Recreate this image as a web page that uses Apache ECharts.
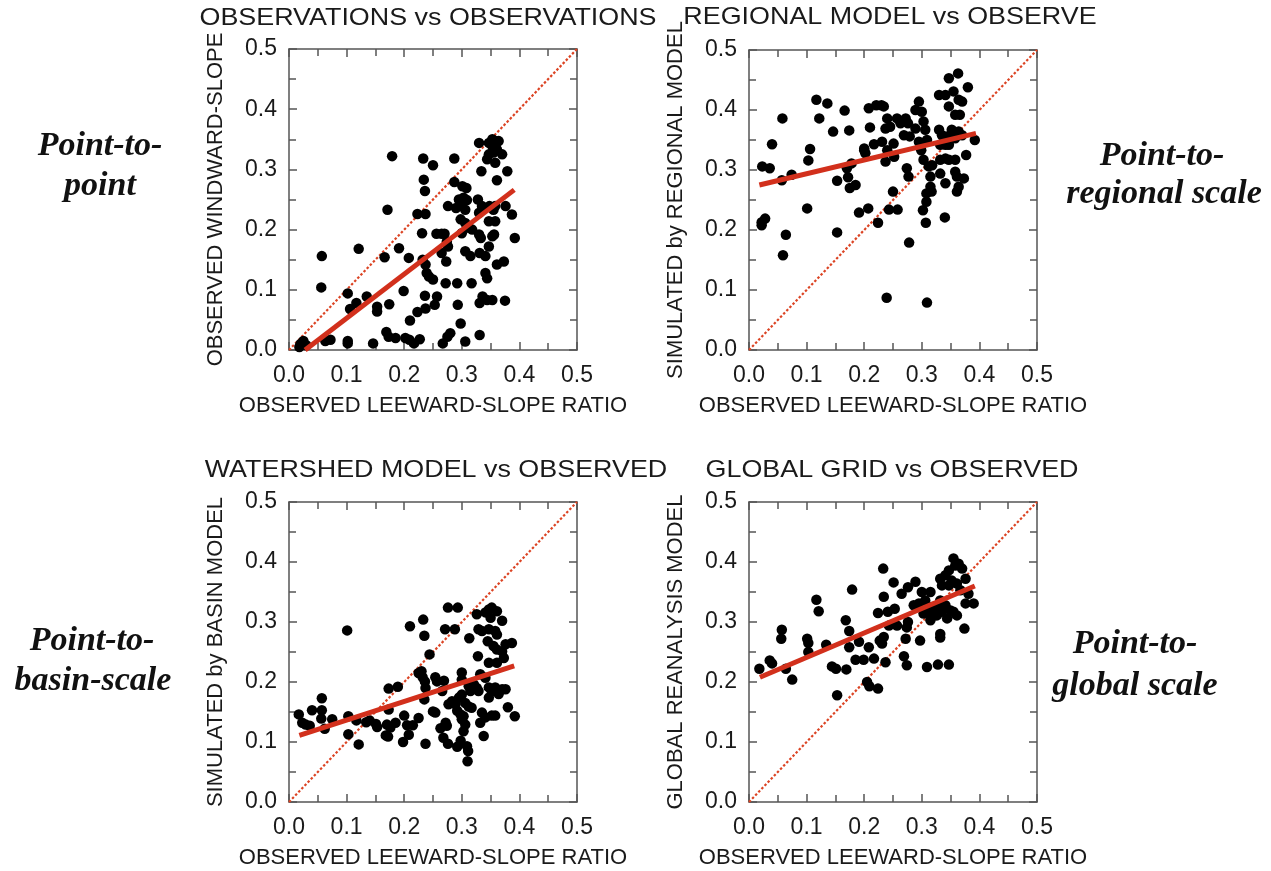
<!DOCTYPE html>
<html>
<head>
<meta charset="utf-8">
<script src="https://cdn.jsdelivr.net/npm/echarts@6/dist/echarts.min.js"></script>
<style>
html,body{margin:0;padding:0;background:#fff;}
#chart{width:1271px;height:871px;}
</style>
</head>
<body>
<div id="chart"></div>
<script>
// ---- data ----
const axisMin = 0, axisMax = 0.5, axisStep = 0.1;

const panelTitles = ['OBSERVATIONS vs OBSERVATIONS', 'REGIONAL MODEL vs OBSERVE', 'WATERSHED MODEL vs OBSERVED', 'GLOBAL GRID vs OBSERVED'];
const xNames = ['OBSERVED LEEWARD-SLOPE RATIO', 'OBSERVED LEEWARD-SLOPE RATIO', 'OBSERVED LEEWARD-SLOPE RATIO', 'OBSERVED LEEWARD-SLOPE RATIO'];
const yNames = ['OBSERVED WINDWARD-SLOPE', 'SIMULATED by REGIONAL MODEL', 'SIMULATED by BASIN MODEL', 'GLOBAL REANALYSIS MODEL'];
const sideLabels = [['Point-to-', 'point'], ['Point-to-', 'regional scale'], ['Point-to-', 'basin-scale'], ['Point-to-', 'global scale']];

const diagX = [0, 0.5];
const diagY = [0, 0.5];

const fit1X = [0.028, 0.391], fit1Y = [0.0, 0.266];
const fit2X = [0.018, 0.394], fit2Y = [0.275, 0.361];
const fit3X = [0.018, 0.391], fit3Y = [0.111, 0.227];
const fit4X = [0.019, 0.392], fit4Y = [0.208, 0.360];

const obsVsObs = [
[0.02,0.01],[0.025,0.015],[0.018,0.005],[0.03,0.008],
[0.057,0.156],[0.056,0.104],[0.072,0.017],[0.063,0.015],
[0.102,0.094],[0.106,0.068],[0.117,0.078],[0.102,0.015],[0.102,0.011],
[0.121,0.168],[0.135,0.089],[0.146,0.011],[0.153,0.072],[0.153,0.064],
[0.166,0.154],[0.171,0.233],[0.179,0.322],[0.174,0.076],
[0.169,0.03],[0.173,0.022],[0.185,0.02],
[0.191,0.169],[0.199,0.098],[0.208,0.153],[0.21,0.049],
[0.202,0.02],[0.209,0.017],[0.217,0.011],[0.227,0.018],
[0.223,0.063],[0.223,0.226],[0.233,0.318],[0.234,0.283],[0.236,0.264],[0.237,0.226],[0.231,0.194],
[0.232,0.15],[0.237,0.142],[0.239,0.128],[0.243,0.122],[0.25,0.117],
[0.236,0.09],[0.237,0.069],[0.253,0.075],[0.257,0.089],[0.25,0.307],
[0.256,0.193],[0.265,0.193],[0.27,0.193],[0.274,0.18],[0.276,0.172],[0.265,0.161],[0.273,0.147],[0.272,0.111],
[0.267,0.011],[0.275,0.022],[0.28,0.028],
[0.287,0.318],[0.287,0.279],[0.276,0.239],[0.292,0.111],[0.293,0.075],[0.298,0.044],[0.306,0.014],
[0.29,0.236],[0.3,0.239],[0.306,0.233],[0.301,0.272],[0.308,0.269],
[0.295,0.25],[0.303,0.253],[0.309,0.249],[0.298,0.217],[0.306,0.211],
[0.3,0.194],[0.312,0.203],[0.318,0.2],[0.306,0.164],[0.315,0.156],[0.317,0.111],
[0.33,0.344],[0.334,0.297],[0.328,0.25],[0.335,0.239],[0.33,0.228],[0.33,0.192],[0.333,0.186],[0.331,0.161],[0.341,0.156],[0.341,0.128],[0.344,0.119],[0.331,0.078],[0.336,0.089],[0.331,0.025],
[0.347,0.344],[0.353,0.35],[0.358,0.347],[0.364,0.347],[0.353,0.339],[0.361,0.333],[0.355,0.328],[0.347,0.325],[0.344,0.317],[0.37,0.325],[0.358,0.311],[0.379,0.297],[0.361,0.282],
[0.348,0.239],[0.355,0.233],[0.358,0.239],[0.376,0.239],[0.387,0.225],
[0.347,0.214],[0.358,0.214],[0.347,0.172],[0.353,0.189],[0.356,0.192],
[0.361,0.142],[0.373,0.147],[0.375,0.082],[0.392,0.186],[0.344,0.083],[0.353,0.083]
];

const regionalVsObs = [
[0.023,0.306],[0.036,0.303],[0.04,0.343],[0.058,0.386],[0.057,0.283],[0.074,0.292],
[0.022,0.213],[0.028,0.219],[0.022,0.208],
[0.064,0.192],[0.059,0.158],[0.101,0.236],[0.103,0.316],[0.106,0.335],
[0.117,0.417],[0.122,0.386],[0.136,0.411],[0.146,0.364],[0.153,0.196],[0.153,0.282],
[0.166,0.399],[0.174,0.366],[0.17,0.303],[0.178,0.311],[0.172,0.288],[0.175,0.27],[0.185,0.275],
[0.191,0.229],[0.207,0.236],[0.208,0.403],[0.21,0.371],
[0.2,0.336],[0.202,0.328],[0.217,0.343],[0.2,0.333],
[0.221,0.408],[0.23,0.408],[0.234,0.406],
[0.231,0.347],[0.237,0.369],[0.24,0.386],[0.245,0.372],
[0.237,0.314],[0.24,0.333],[0.251,0.344],[0.252,0.322],[0.25,0.264],[0.243,0.234],[0.258,0.234],[0.224,0.212],
[0.257,0.386],[0.263,0.378],[0.272,0.386],[0.276,0.378],[0.269,0.358],[0.279,0.356],[0.289,0.369],
[0.274,0.303],[0.277,0.289],
[0.289,0.4],[0.295,0.414],[0.3,0.397],
[0.278,0.179],[0.302,0.233],[0.307,0.212],[0.308,0.247],[0.308,0.261],[0.317,0.264],[0.315,0.289],[0.315,0.272],
[0.303,0.381],[0.306,0.367],[0.309,0.35],[0.295,0.347],[0.299,0.333],[0.303,0.317],[0.312,0.306],[0.318,0.308],
[0.33,0.425],[0.341,0.425],[0.347,0.453],[0.363,0.461],[0.355,0.431],[0.364,0.417],[0.37,0.414],[0.38,0.438],
[0.347,0.406],[0.358,0.392],[0.366,0.392],
[0.33,0.367],[0.335,0.358],[0.344,0.356],[0.352,0.367],[0.358,0.353],[0.364,0.364],[0.37,0.358],[0.332,0.342],[0.341,0.342],[0.347,0.342],
[0.392,0.35],[0.332,0.317],[0.341,0.319],[0.347,0.317],[0.358,0.317],
[0.332,0.294],[0.341,0.278],[0.358,0.297],[0.361,0.289],[0.373,0.286],[0.364,0.272],[0.361,0.264],
[0.34,0.221],[0.377,0.325],[0.239,0.087],[0.309,0.079]
];

const basinVsObs = [
[0.017,0.146],[0.023,0.132],[0.029,0.129],[0.036,0.127],[0.04,0.153],[0.057,0.173],[0.057,0.153],[0.056,0.139],[0.062,0.122],[0.075,0.138],
[0.101,0.286],[0.103,0.143],[0.103,0.113],[0.117,0.136],[0.121,0.096],[0.134,0.133],[0.14,0.136],[0.151,0.13],[0.153,0.125],
[0.173,0.189],[0.173,0.154],[0.168,0.111],[0.172,0.109],[0.17,0.129],[0.185,0.132],[0.176,0.124],
[0.189,0.192],[0.2,0.144],[0.198,0.1],[0.205,0.128],[0.208,0.112],[0.215,0.128],[0.21,0.293],[0.225,0.14],
[0.225,0.215],[0.23,0.218],[0.232,0.208],[0.233,0.304],[0.235,0.277],[0.244,0.246],[0.235,0.171],[0.237,0.19],[0.236,0.201],[0.237,0.097],
[0.254,0.208],[0.257,0.201],[0.269,0.202],[0.25,0.151],[0.254,0.149],[0.263,0.123],[0.272,0.132],[0.274,0.127],[0.268,0.107],[0.276,0.097],
[0.266,0.185],[0.277,0.163],[0.283,0.168],
[0.276,0.324],[0.293,0.324],[0.271,0.288],[0.288,0.288],
[0.289,0.163],[0.295,0.174],[0.3,0.179],[0.306,0.165],[0.292,0.152],[0.298,0.146],[0.303,0.143],[0.312,0.159],[0.317,0.157],
[0.292,0.092],[0.298,0.102],[0.3,0.138],[0.303,0.118],[0.306,0.129],[0.309,0.093],[0.311,0.085],[0.31,0.068],
[0.3,0.216],[0.3,0.204],[0.312,0.193],[0.315,0.185],[0.321,0.196],[0.326,0.19],[0.329,0.185],
[0.313,0.273],[0.328,0.243],
[0.326,0.313],[0.341,0.316],[0.347,0.321],[0.352,0.324],[0.361,0.318],[0.35,0.307],[0.37,0.302],
[0.329,0.288],[0.335,0.285],[0.347,0.288],[0.358,0.285],[0.361,0.279],[0.345,0.268],[0.355,0.26],[0.361,0.254],[0.37,0.251],[0.376,0.263],[0.387,0.265],[0.373,0.24],[0.361,0.232],[0.347,0.232],
[0.332,0.213],[0.341,0.207],[0.347,0.191],[0.352,0.185],[0.358,0.191],[0.364,0.18],[0.37,0.188],[0.376,0.188],[0.347,0.174],
[0.335,0.149],[0.332,0.132],[0.341,0.141],[0.352,0.144],[0.358,0.144],[0.338,0.11],[0.38,0.158],[0.392,0.143]
];

const globalVsObs = [
[0.018,0.222],[0.036,0.236],[0.04,0.231],[0.057,0.287],[0.056,0.272],[0.064,0.222],[0.075,0.204],
[0.101,0.272],[0.103,0.265],[0.103,0.25],[0.117,0.337],[0.121,0.318],[0.134,0.262],[0.144,0.226],[0.151,0.222],[0.153,0.178],
[0.168,0.303],[0.174,0.285],[0.174,0.258],[0.169,0.221],[0.179,0.354],[0.191,0.267],[0.185,0.237],[0.199,0.237],[0.217,0.239],[0.208,0.258],
[0.205,0.2],[0.209,0.193],[0.224,0.189],
[0.233,0.389],[0.234,0.342],[0.224,0.315],[0.227,0.269],[0.231,0.264],[0.234,0.275],[0.237,0.233],
[0.241,0.317],[0.243,0.294],[0.253,0.322],[0.257,0.294],[0.251,0.366],[0.265,0.347],[0.276,0.358],[0.289,0.367],
[0.269,0.243],[0.272,0.272],[0.274,0.228],[0.276,0.3],[0.274,0.291],[0.297,0.269],[0.309,0.225],[0.328,0.229],[0.347,0.229],
[0.286,0.328],[0.295,0.331],[0.3,0.35],[0.306,0.336],[0.315,0.35],[0.318,0.325],[0.312,0.317],[0.303,0.314],[0.315,0.303],[0.321,0.317],[0.326,0.311],[0.335,0.317],[0.329,0.325],[0.332,0.336],[0.341,0.328],[0.344,0.306],[0.35,0.319],[0.355,0.317],[0.361,0.311],[0.376,0.331],[0.381,0.347],[0.39,0.331],[0.374,0.289],
[0.332,0.372],[0.341,0.378],[0.347,0.386],[0.355,0.406],[0.358,0.394],[0.364,0.397],[0.37,0.389],[0.352,0.369],[0.361,0.364],[0.347,0.361],[0.335,0.361],[0.376,0.372],[0.367,0.353],
[0.332,0.28],[0.332,0.274]
];

// ---- build ----
const panels = [obsVsObs, regionalVsObs, basinVsObs, globalVsObs];
const fitsX = [fit1X, fit2X, fit3X, fit4X];
const fitsY = [fit1Y, fit2Y, fit3Y, fit4Y];
const zip = (a, b) => a.map((v, i) => [v, b[i]]);

const gridBoxes = [
  {left: 289, top: 49, width: 288, height: 301},
  {left: 749, top: 50, width: 288, height: 300},
  {left: 289, top: 502, width: 288, height: 300},
  {left: 749, top: 502, width: 288, height: 300}
];
const titlePos = [[428, 18], [890, 17], [436, 470], [892, 470]];
const sidePos = [[[100, 146], [100, 186]], [[1162, 156], [1164, 194]], [[92, 641], [93, 681]], [[1135, 644], [1135, 686]]];

const FONT = '"Liberation Sans", Arial, Helvetica, sans-serif';
const frameColor = '#555';
const txtColor = '#1a1a1a';

function mkAxis(k, pos, isX, showLabel) {
  return {
    type: 'value', gridIndex: k, position: pos,
    min: axisMin, max: axisMax, interval: axisStep,
    name: showLabel ? (isX ? xNames[k] : yNames[k]) : '',
    nameLocation: 'middle',
    nameGap: isX ? 45 : 62,
    nameTextStyle: {fontFamily: FONT, fontSize: 22, color: txtColor},
    axisLine: {show: true, onZero: false, lineStyle: {color: frameColor, width: 1.5}},
    axisTick: {show: true, inside: true, length: 8, lineStyle: {color: frameColor, width: 1.5}},
    minorTick: {show: true, splitNumber: 2, length: 7, lineStyle: {color: frameColor, width: 1.5}},
    splitLine: {show: false},
    minorSplitLine: {show: false},
    axisLabel: {show: showLabel, fontFamily: FONT, fontSize: 23, color: txtColor,
      margin: isX ? 14 : 12, formatter: v => v.toFixed(1)}
  };
}

const xAxes = [], yAxes = [], series = [];
for (let k = 0; k < 4; k++) {
  xAxes.push(mkAxis(k, 'bottom', true, true));
  xAxes.push(mkAxis(k, 'top', true, false));
  yAxes.push(mkAxis(k, 'left', false, true));
  yAxes.push(mkAxis(k, 'right', false, false));
  const xi = 2 * k, yi = 2 * k;
  series.push({
    type: 'line', xAxisIndex: xi, yAxisIndex: yi, data: zip(diagX, diagY),
    symbol: 'none', silent: true, z: 2,
    lineStyle: {color: '#dc4424', width: 2.2, type: [2.5, 2]}
  });
  series.push({
    type: 'scatter', xAxisIndex: xi, yAxisIndex: yi, data: panels[k],
    symbolSize: 10.5, z: 3, itemStyle: {color: '#000', opacity: 1}
  });
  series.push({
    type: 'line', xAxisIndex: xi, yAxisIndex: yi, data: zip(fitsX[k], fitsY[k]),
    symbol: 'none', silent: true, z: 4,
    lineStyle: {color: '#d2301c', width: 5, cap: 'butt'}
  });
}

const graphics = [];
for (let k = 0; k < 4; k++) {
  graphics.push({
    type: 'text', x: titlePos[k][0], y: titlePos[k][1], scaleX: 1.12,
    style: {text: panelTitles[k], textAlign: 'center', textVerticalAlign: 'middle',
      font: '24px ' + FONT, fill: txtColor}
  });
  for (let j = 0; j < 2; j++) {
    graphics.push({
      type: 'text', x: sidePos[k][j][0], y: sidePos[k][j][1],
      style: {text: sideLabels[k][j], textAlign: 'center', textVerticalAlign: 'middle',
        font: 'italic bold 34px "Liberation Serif", "Times New Roman", serif', fill: '#111'}
    });
  }
}

const chart = echarts.init(document.getElementById('chart'), null, {renderer: 'canvas'});
chart.setOption({
  animation: false,
  backgroundColor: '#fff',
  grid: gridBoxes.map(g => Object.assign({containLabel: false}, g)),
  xAxis: xAxes,
  yAxis: yAxes,
  series: series,
  graphic: graphics
});
</script>
</body>
</html>
